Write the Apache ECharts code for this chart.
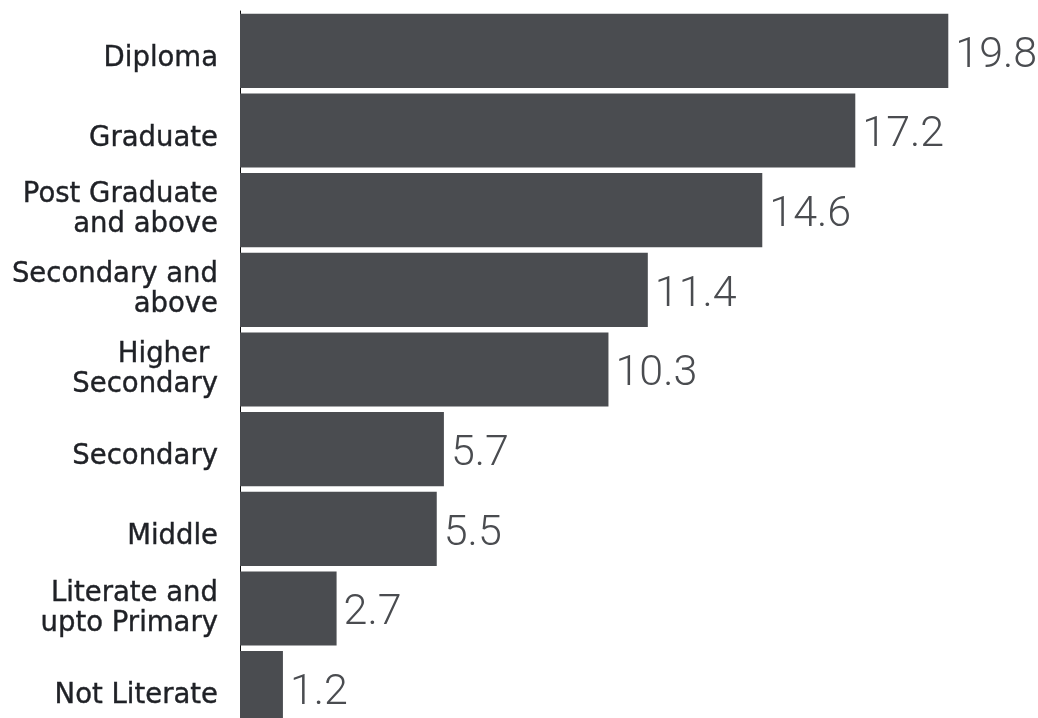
<!DOCTYPE html>
<html>
<head>
<meta charset="utf-8">
<script src="https://cdn.jsdelivr.net/npm/echarts@6/dist/echarts.min.js"></script>
<style>html,body{margin:0;padding:0;background:#fff;overflow:hidden;}#c{width:1038px;height:740px;}</style>
</head>
<body>
<div id="c"></div>
<script>
const categories = ["Diploma", "Graduate", "Post Graduate\nand above", "Secondary and\nabove", "Higher \nSecondary", "Secondary", "Middle", "Literate and\nupto Primary", "Not Literate"];
const values = [19.8, 17.2, 14.6, 11.4, 10.3, 5.7, 5.5, 2.7, 1.2];

const chart = echarts.init(document.getElementById('c'));
chart.setOption({
  animation: false,
  grid: { left: 240, top: 11, width: 787, height: 717, containLabel: false },
  xAxis: { type: 'value', min: 0, max: 22, show: false },
  yAxis: {
    type: 'category', data: categories, inverse: true,
    axisLine: { show: true, lineStyle: { color: '#111', width: 1 } },
    axisTick: { show: false },
    axisLabel: {
      margin: 22, align: 'right',
      color: '#1f2126', fontFamily: 'DejaVu Sans', fontSize: 27.5, fontWeight: 'normal', lineHeight: 30,
      textBorderColor: '#1f2126', textBorderWidth: 0.4,
      formatter: function (v) { return v.indexOf('\n') < 0 ? '{s|' + v + '}' : v; },
      rich: { s: { color: '#1f2126', fontFamily: 'DejaVu Sans', fontSize: 27.5, lineHeight: 30, padding: [16, 0, 0, 0], textBorderColor: '#1f2126', textBorderWidth: 0.4 } }
    }
  },
  series: [{
    type: 'bar', data: values, barCategoryGap: '7%',
    itemStyle: { color: '#4a4c50' },
    label: { show: true, position: 'right', distance: 7, offset: [0, 5], color: '#4a4c50', fontFamily: 'Roboto', fontSize: 43, fontWeight: 300, formatter: p => p.value.toFixed(1) }
  }]
});
</script>
</body>
</html>
